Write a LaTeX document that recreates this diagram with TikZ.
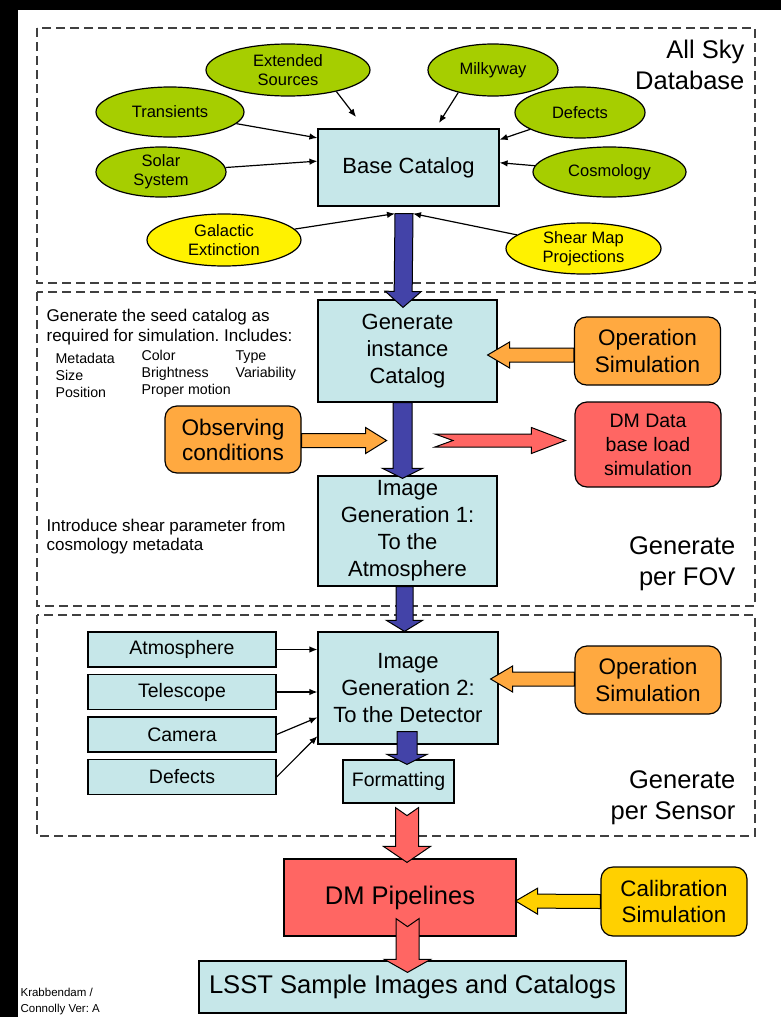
\documentclass[tikz,border=0pt]{standalone}
\usepackage{fontspec}
\setmainfont{Liberation Sans}
\usetikzlibrary{calc,shapes.geometric,arrows.meta}
\definecolor{boxblue}{HTML}{C6E7E9}
\definecolor{skygreen}{HTML}{A6CE00}
\definecolor{simorange}{HTML}{FFA940}
\definecolor{dmred}{HTML}{FF6663}
\definecolor{calgold}{HTML}{FFD000}
\definecolor{flowblue}{HTML}{4343A8}
\frenchspacing

% wide arrow: style, tail, tip, half shaft, half head, head length, tail notch
\newcommand{\blockarrow}[7][]{%
  \coordinate (ba-h) at ($(#3)!#6!(#2)$);
  \draw[#1] ($(#2)!#4!90:(#3)$) -- ($(ba-h)!#4!90:(#3)$) -- ($(ba-h)!#5!90:(#3)$) -- (#3)
    -- ($(ba-h)!#5!-90:(#3)$) -- ($(ba-h)!#4!-90:(#3)$) -- ($(#2)!#4!-90:(#3)$)
    -- ($(#2)!#7!(#3)$) -- cycle;
}

\begin{document}
\begin{tikzpicture}[x=1pt, y=-1pt, -{Latex[length=8pt,width=6.5pt]}, line width=1.2pt,
catalog/.style={rectangle, draw, fill=boxblue, align=center, inner sep=0pt,
  font=\fontsize{22}{27}\selectfont},
input/.style={catalog, minimum width=188, minimum height=35, font=\fontsize{19.5}{23}\selectfont},
source/.style={ellipse, draw, fill=skygreen, align=center, inner sep=0pt,
  font=\fontsize{16.5}{19}\selectfont},
sim/.style={rectangle, rounded corners=12pt, draw, fill=simorange, align=center, inner sep=0pt,
  minimum width=146, minimum height=68, font=\fontsize{22.5}{27}\selectfont},
region/.style={-, draw=black!75, line width=1.4pt, dash pattern=on 9pt off 5pt},
regionname/.style={align=right, anchor=east, inner sep=0pt, font=\fontsize{25.5}{31}\selectfont},
note/.style={align=left, anchor=west, inner sep=0pt, font=\fontsize{17}{20}\selectfont},
flow/.style={-, draw=black, line width=1pt, fill=flowblue, line join=miter}]
  \useasboundingbox (0,0) rectangle (781,1017);
  \fill[-, black] (0,0) rectangle (781,1017);
  \fill[-, white] (18,10) rectangle (781,1017);

  % all sky database
  \draw[region] (37,28) rectangle (755,283);
  \node[regionname] (skyname) at (745,65) {All Sky\\Database};
  \node[catalog, minimum width=181, minimum height=77] (base) at (408.5,167.5) {Base Catalog};
  \node[source, minimum width=164, minimum height=52] (ext)    at (288,70)      {Extended\\Sources};
  \node[source, minimum width=130, minimum height=52] (milky)  at (493,70)      {Milkyway};
  \node[source, minimum width=148, minimum height=50] (trans)  at (170,112)     {Transients};
  \node[source, minimum width=130, minimum height=51] (defsky) at (580,112.5)   {Defects};
  \node[source, minimum width=130, minimum height=50] (solar)  at (161,172)     {Solar\\System};
  \node[source, minimum width=153, minimum height=50] (cosmo)  at (609.5,172)   {Cosmology};
  \node[source, fill=yellow, minimum width=154, minimum height=52] (galext) at (224,240)   {Galactic\\Extinction};
  \node[source, fill=yellow, minimum width=155, minimum height=51] (shear)  at (583.5,248.5) {Shear Map\\Projections};

  \coordinate (extend) at (356,117);
  \coordinate (milkend) at (439,123);
  \coordinate (dbout) at ($(base.south)+(-4.5,7)$);
  \coordinate (dboutl) at ($(dbout)+(-9,0)$);
  \coordinate (dboutr) at ($(dbout)+(9,0)$);
  \foreach \from/\to in {ext.-24/extend, milky.-147/milkend, trans/base.162, solar/base.176,
    defsky/base.17, cosmo/base.3, galext/dboutl, shear/dboutr}
    \draw (\from) -- (\to);

  % generate per FOV
  \draw[region] (37,292) rectangle (755,606);
  \node[regionname] (fovname) at (736,564) {Generate\\per FOV};
  \node[catalog, minimum width=179, minimum height=102] (inst) at (407.5,351) {Generate\\instance\\Catalog};
  \node[sim] (opsim1) at (647.5,351) {Operation\\Simulation};
  \node[sim, minimum width=136, minimum height=67, font=\fontsize{22.6}{25}\selectfont] (obs) at (233,439.5) {Observing\\conditions};
  \node[sim, fill=dmred, minimum height=85, font=\fontsize{19.5}{24}\selectfont] (dmload) at (648,444.5) {DM Data\\base load\\simulation};
  \node[catalog, minimum width=179, minimum height=110] (img1) at (407.5,531) {Image\\Generation 1:\\To the\\Atmosphere};
  \node[note] (seedtext) at (46,327) {Generate the seed catalog as\\required for simulation. Includes:};
  \node[note, font=\fontsize{14.2}{16.7}\selectfont] (col1) at (55,375.5) {Metadata\\Size\\Position};
  \node[note, font=\fontsize{14.2}{16.7}\selectfont] (col2) at (141,374) {Color\\Brightness\\Proper motion};
  \node[note, font=\fontsize{14.2}{16.7}\selectfont] (col3) at (235,365.5) {Type\\Variability};
  \node[note, font=\fontsize{17}{19.5}\selectfont] (sheartext) at (46,536.5) {Introduce shear parameter from\\cosmology metadata};

  % generate per sensor
  \draw[region] (37,615) rectangle (755,836);
  \node[regionname] (sensorname) at (736,797.5) {Generate\\per Sensor};
  \node[catalog, minimum width=180, minimum height=112] (img2) at (408,688) {Image\\Generation 2:\\To the Detector};
  \node[input] (atmos)  at (182,649.5) {Atmosphere};
  \node[input] (tele)   at (182,692)   {Telescope};
  \node[input] (camera) at (182,734.5) {Camera};
  \node[input] (defcam) at (182,777)   {Defects};
  \node[sim] (opsim2) at (648,680) {Operation\\Simulation};
  \node[catalog, minimum width=111, minimum height=43, font=\fontsize{19.5}{23}\selectfont] (fmt) at (398.5,781.5) {Formatting};

  \foreach \from/\to in {atmos/atmos-|img2.west, tele/tele-|img2.west, camera.east/img2.198, defcam.east/img2.208}
    \draw (\from) -- (\to);

  % pipelines
  \node[catalog, fill=dmred, minimum width=232, minimum height=77, font=\fontsize{25.5}{30}\selectfont] (dmpipe) at (400,897.5) {DM Pipelines};
  \node[sim, fill=calgold, minimum height=69, font=\fontsize{22.4}{26}\selectfont] (calib) at (674,901.5) {Calibration\\Simulation};
  \node[catalog, minimum width=427, minimum height=52, font=\fontsize{25.6}{30}\selectfont] (lsst) at (412.5,987) {LSST Sample Images and Catalogs};
  \node[note, font=\fontsize{11.5}{16}\selectfont] (credit) at (20,1002) {Krabbendam /\\Connolly Ver: A};

  % wide arrows
  \coordinate (a1tip) at ($(inst.north)+(-4.5,8)$);
  \blockarrow[flow]{dbout}{a1tip}{9pt}{18pt}{16pt}{0pt}
  \coordinate (a2tail) at ($(inst.south)+(-5,0)$);
  \coordinate (a2tip) at ($(img1.north)+(-5,3)$);
  \blockarrow[flow]{a2tail}{a2tip}{9.5pt}{20pt}{10pt}{0pt}
  \coordinate (a3tail) at ($(img1.south)+(-3,0)$);
  \coordinate (a3tip) at ($(img2.north)+(-3.5,0)$);
  \blockarrow[flow]{a3tail}{a3tip}{8.5pt}{18pt}{11pt}{0pt}
  \coordinate (a4tail) at ($(img2.south)+(-1,-13)$);
  \coordinate (a4tip) at ($(fmt.north)+(8.5,5)$);
  \blockarrow[flow]{a4tail}{a4tip}{10pt}{20pt}{10pt}{0pt}

  \coordinate (r1tail) at (435,440.5);
  \coordinate (r1tip) at ($(dmload.west)+(-9,-4)$);
  \blockarrow[flow, fill=dmred]{r1tail}{r1tip}{6.5pt}{13pt}{34pt}{18pt}
  \coordinate (r2tail) at ($(fmt.south)+(8.5,4)$);
  \coordinate (r2tip) at ($(dmpipe.north)+(7,4)$);
  \blockarrow[flow, fill=dmred]{r2tail}{r2tip}{11.5pt}{23.5pt}{16pt}{8pt}
  \coordinate (r3tail) at ($(dmpipe.south)+(7.5,-18)$);
  \coordinate (r3tip) at ($(lsst.north)+(-5,12)$);
  \blockarrow[flow, fill=dmred]{r3tail}{r3tip}{11.5pt}{23pt}{13pt}{8pt}

  \coordinate (o1tail) at ($(opsim1.west)+(0,4)$);
  \coordinate (o1tip) at ($(inst.east)+(-10,4)$);
  \blockarrow[flow, fill=simorange]{o1tail}{o1tip}{7pt}{13pt}{22pt}{0pt}
  \coordinate (o2tail) at ($(obs.east)+(0,1)$);
  \coordinate (o2tip) at ($(obs.east)+(85,1)$);
  \blockarrow[flow, fill=simorange]{o2tail}{o2tip}{7pt}{13pt}{21pt}{0pt}
  \coordinate (o3tail) at ($(opsim2.west)+(0,-1)$);
  \coordinate (o3tip) at ($(img2.east)+(-8,-9)$);
  \blockarrow[flow, fill=simorange]{o3tail}{o3tip}{7pt}{13pt}{22pt}{0pt}
  \coordinate (g1tail) at (calib.west);
  \coordinate (g1tip) at ($(dmpipe.east)+(-1,3.5)$);
  \blockarrow[flow, fill=calgold]{g1tail}{g1tip}{7pt}{13pt}{22pt}{0pt}
\end{tikzpicture}
\end{document}
